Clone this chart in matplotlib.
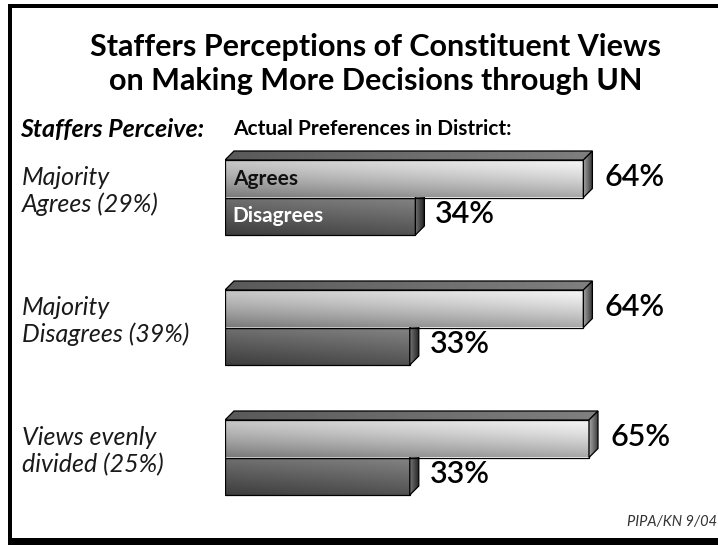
import numpy as np
import matplotlib
matplotlib.use('Agg')
import matplotlib.pyplot as plt
from matplotlib.patches import Polygon, Rectangle
import matplotlib.transforms as mtransforms

# data
groups = ['Majority\nAgrees (29%)', 'Majority\nDisagrees (39%)', 'Views evenly\ndivided (25%)']
agrees = [64, 64, 65]
disagrees = [34, 33, 33]
series_names = ['Agrees', 'Disagrees']

W, H = 718, 545
fig = plt.figure(figsize=(W / 100, H / 100), dpi=100)
fig.patch.set_facecolor('white')

# frame (cut off at the right)
for x0, y0, w, h in [(8, 4, 720, 4), (8, 4, 4, 541), (8, 538, 720, 7)]:
    fig.add_artist(Rectangle((x0 / W, 1 - (y0 + h) / H), w / W, h / H,
                             transform=fig.transFigure, color='black', lw=0))

# bar axes: 5.6 px per percent, 130 px per group
ax_l, ax_w = 225, 560
ax_t, ax_b = 140, 505
ax = fig.add_axes([ax_l / W, 1 - ax_b / H, ax_w / W, (ax_b - ax_t) / H])
ax.set_xlim(0, 100)
top_pad = 57.5 / 130
ax.set_ylim((ax_b - ax_t) / 130 - top_pad, -top_pad)
ax.axis('off')
ax.set_autoscale_on(False)

bh = 37.5 / 130
dx = 9 / 5.6
dy = 9 / 130


def face(verts, grad, edge=True):
    poly = Polygon(verts, closed=True, facecolor='none', edgecolor='none', zorder=2)
    ax.add_patch(poly)
    xs = [v[0] for v in verts]
    ys = [v[1] for v in verts]
    im = ax.imshow(grad, extent=(min(xs), max(xs), max(ys), min(ys)),
                   cmap='gray', vmin=0, vmax=1, aspect='auto',
                   interpolation='bilinear', origin='upper', zorder=2)
    im.set_clip_path(poly)
    if edge:
        ax.add_patch(Polygon(verts, closed=True, facecolor='none',
                             edgecolor='black', lw=0.9, zorder=2))


def bar3d(x1, y0, y1, front_fn, top_c, side_c, top=True):
    t = np.linspace(0, 1, 60)[:, None]
    s = np.linspace(0, 1, 200)[None, :]
    face([(0, y0), (x1, y0), (x1, y1), (0, y1)], front_fn(s, t))
    if top:
        tt = np.linspace(0, 1, 10)[:, None]
        face([(0, y0), (dx, y0 - dy), (x1 + dx, y0 - dy), (x1, y0)],
             top_c[0] + (top_c[1] - top_c[0]) * s + 0 * tt)
    ss = np.linspace(0, 1, 20)[None, :]
    face([(x1, y0), (x1 + dx, y0 - dy), (x1 + dx, y1 - dy), (x1, y1)],
         side_c[0] + (side_c[1] - side_c[0]) * ss + 0 * t)


def agree_front(s, t):
    return np.clip(0.78 + 0.18 * s - 0.30 * t ** 1.3, 0, 1)


def dis_front(s, t):
    return np.clip(0.44 + 0.08 * s - 0.20 * t, 0, 1)


for i in range(len(groups)):
    ya0 = i - bh
    # disagree first so the agree bar covers it
    bar3d(disagrees[i], i, i + bh, dis_front, (0.30, 0.40), (0.45, 0.15), top=False)
    bar3d(agrees[i], ya0, i, agree_front, (0.35, 0.50), (0.65, 0.25))
    ax.text(agrees[i] + 3.8, i - bh / 2 - 0.015, f'{agrees[i]}%', fontsize=22,
            family='Lato', fontweight='semibold', va='center', ha='left', color='black')
    ax.text(disagrees[i] + 3.5, i + bh / 2 - 0.02, f'{disagrees[i]}%', fontsize=22,
            family='Lato', fontweight='semibold', va='center', ha='left', color='black')

ax.text(1.4, -bh / 2, series_names[0], fontsize=15, fontweight='bold', family='Lato',
        va='center', ha='left', color='#111111', zorder=5)
ax.text(1.4, bh / 2, series_names[1], fontsize=15, fontweight='bold', family='Lato',
        va='center', ha='left', color='white', zorder=5)

# left category labels
tr = mtransforms.blended_transform_factory(fig.transFigure, ax.transData)
for i, g in enumerate(groups):
    ax.text(22 / W, i - 0.05, g, transform=tr, fontsize=18, style='italic',
            fontweight='normal', family='Lato', color='#1a1a1a', va='center',
            ha='left', linespacing=1.2)

# titles
fig.text(376 / W, 1 - 64 / H, 'Staffers Perceptions of Constituent Views\non Making More Decisions through UN',
         ha='center', va='center', fontsize=22, fontweight='bold',
         family='Lato', linespacing=1.3)
fig.text(20 / W, 1 - 130 / H, 'Staffers Perceive:', ha='left', va='center', fontsize=18,
         fontweight='bold', style='italic', family='Lato')
fig.text(233 / W, 1 - 129 / H, 'Actual Preferences in District:', ha='left', va='center',
         fontsize=15, fontweight='bold', family='Lato')
fig.text(717 / W, 1 - 522 / H, 'PIPA/KN 9/04', ha='right', va='center', fontsize=10.5,
         style='italic', family='Lato', color='#333333')

fig.savefig('out.png', dpi=100)
